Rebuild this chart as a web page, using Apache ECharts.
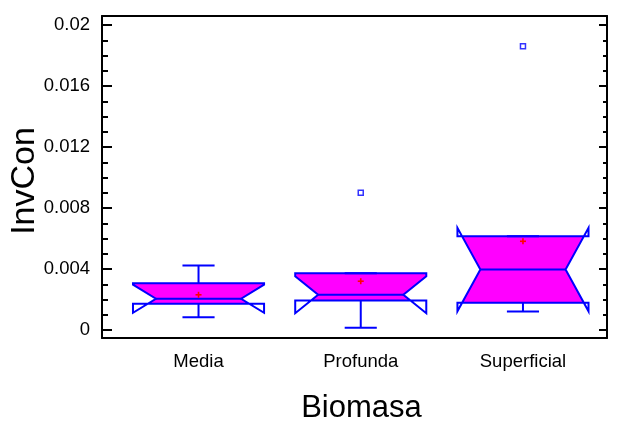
<!DOCTYPE html>
<html>
<head>
<meta charset="utf-8">
<script src="https://cdn.jsdelivr.net/npm/echarts@6/dist/echarts.min.js"></script>
<style>html,body{margin:0;padding:0;background:#fff}#c{width:618px;height:423px}</style>
</head>
<body>
<div id="c"></div>
<script>
// ---- data ----
const categories = ['Media', 'Profunda', 'Superficial'];
const whiskerLow  = [0.00084, 0.00014, 0.00121];
const q1          = [0.00172, 0.00193, 0.00178];
const notchLow    = [0.00113, 0.00110, 0.00123];
const median      = [0.00205, 0.00231, 0.00397];
const notchHigh   = [0.00297, 0.00352, 0.00670];
const q3          = [0.00307, 0.00372, 0.00615];
const whiskerHigh = [0.00423, 0.00372, 0.00615];
const means       = [0.00231, 0.00320, 0.00582];
const outlierCat  = [2, 3];
const outlierVal  = [0.0090, 0.01861];
const yTickValues = [0, 0.004, 0.008, 0.012, 0.016, 0.02];
const yTickLabels = ['0', '0.004', '0.008', '0.012', '0.016', '0.02'];
const yMinorValues = [0.001, 0.002, 0.003, 0.005, 0.006, 0.007, 0.009, 0.010, 0.011,
                      0.013, 0.014, 0.015, 0.017, 0.018, 0.019];

const BLUE = '#0000FF', MAG = '#FF00FF', RED = '#FF0000';
const boxHalf = 0.404, innerRatio = 0.65, capHalf = 0.099;

const boxData = categories.map((c, i) => [i + 1, whiskerLow[i], q1[i], notchLow[i], median[i], notchHigh[i], q3[i], whiskerHigh[i], means[i]]);
const outlierData = outlierCat.map((c, i) => [c, outlierVal[i]]);

function renderBox(params, api) {
  const x = api.value(0);
  const wl = api.value(1), b1 = api.value(2), nlo = api.value(3), med = api.value(4),
        nhi = api.value(5), b3 = api.value(6), wh = api.value(7), mn = api.value(8);
  const ih = boxHalf * innerRatio;
  const P = (dx, v) => api.coord([x + dx, v]);
  function half(v) {
    if (v >= nhi || v <= nlo) return boxHalf;
    if (v >= med) return ih + (boxHalf - ih) * (v - med) / (nhi - med);
    return ih + (boxHalf - ih) * (med - v) / (med - nlo);
  }
  const vals = [b1, b3, med, nlo, nhi].filter(v => v >= b1 && v <= b3).sort((a, b) => a - b);
  const uniq = vals.filter((v, k) => k === 0 || v !== vals[k - 1]);
  const fillPts = [];
  uniq.forEach(v => fillPts.push(P(half(v), v)));
  uniq.slice().reverse().forEach(v => fillPts.push(P(-half(v), v)));
  const outline = [P(-boxHalf, b3), P(boxHalf, b3), P(boxHalf, nhi), P(ih, med), P(boxHalf, nlo),
                   P(boxHalf, b1), P(-boxHalf, b1), P(-boxHalf, nlo), P(-ih, med), P(-boxHalf, nhi)];
  const ls = { stroke: BLUE, lineWidth: 2, fill: null };
  const seg = (a, b, style) => ({ type: 'line', shape: { x1: a[0], y1: a[1], x2: b[0], y2: b[1] }, style: style || ls });
  const m = P(0, mn);
  const redStyle = { stroke: RED, lineWidth: 1.6 };
  return {
    type: 'group',
    children: [
      { type: 'polygon', shape: { points: fillPts }, style: { fill: MAG, stroke: null } },
      { type: 'polygon', shape: { points: outline }, style: { fill: null, stroke: BLUE, lineWidth: 2, lineJoin: 'miter' } },
      seg(P(-ih, med), P(ih, med)),
      seg(P(0, b3), P(0, wh)),
      seg(P(0, b1), P(0, wl)),
      seg(P(-capHalf, wh), P(capHalf, wh)),
      seg(P(-capHalf, wl), P(capHalf, wl)),
      { type: 'line', shape: { x1: m[0] - 3, y1: m[1], x2: m[0] + 3, y2: m[1] }, style: redStyle },
      { type: 'line', shape: { x1: m[0], y1: m[1] - 3, x2: m[0], y2: m[1] + 3 }, style: redStyle }
    ]
  };
}

const FONT = '"Liberation Sans", Arial, sans-serif';
const lineStyle = { color: '#000', width: 2 };
const yBase = { type: 'value', min: -0.000525, max: 0.0206, splitLine: { show: false } };

const option = {
  animation: false,
  backgroundColor: '#fff',
  grid: { left: 102, right: 11, top: 16, bottom: 85, containLabel: false, outerBoundsMode: 'none' },
  xAxis: [
    {
      type: 'value', min: 0.405, max: 3.518, position: 'bottom',
      axisLine: { show: true, onZero: false, lineStyle: lineStyle },
      axisTick: { show: false },
      splitLine: { show: false },
      axisLabel: {
        customValues: [1, 2, 3],
        formatter: v => categories[Math.round(v) - 1] || '',
        fontFamily: FONT, fontSize: 18.5, color: '#000', margin: 14
      },
      name: 'Biomasa', nameLocation: 'middle', nameGap: 55, nameMoveOverlap: false,
      nameTextStyle: { fontFamily: FONT, fontSize: 31, color: '#000', padding: [0, 0, 0, 14] }
    },
    {
      type: 'value', min: 0.405, max: 3.518, position: 'top',
      axisLine: { show: true, onZero: false, lineStyle: lineStyle },
      axisTick: { show: false }, axisLabel: { show: false }, splitLine: { show: false }
    }
  ],
  yAxis: [
    Object.assign({}, yBase, {
      position: 'left',
      axisLine: { show: true, onZero: false, lineStyle: lineStyle },
      axisTick: { show: true, inside: true, length: 10, customValues: yTickValues, lineStyle: { color: '#000', width: 2 } },
      axisLabel: {
        customValues: yTickValues,
        formatter: v => { const k = yTickValues.findIndex(t => Math.abs(t - v) < 1e-9); return k >= 0 ? yTickLabels[k] : ''; },
        fontFamily: FONT, fontSize: 18.5, color: '#000', margin: 12
      },
      name: 'InvCon', nameLocation: 'middle', nameGap: 60, nameMoveOverlap: false,
      nameTextStyle: { fontFamily: FONT, fontSize: 34, color: '#000', padding: [0, 8, 0, 0] }
    }),
    Object.assign({}, yBase, {
      position: 'left', offset: 0,
      axisLine: { show: false, onZero: false },
      axisTick: { show: true, inside: true, length: 6, customValues: yMinorValues, lineStyle: { color: '#000', width: 2 } },
      axisLabel: { show: false }
    }),
    Object.assign({}, yBase, {
      position: 'right', offset: 0,
      axisLine: { show: true, onZero: false, lineStyle: lineStyle },
      axisTick: { show: true, inside: true, length: 8, customValues: yTickValues, lineStyle: { color: '#000', width: 2 } },
      axisLabel: { show: false }
    }),
    Object.assign({}, yBase, {
      position: 'right', offset: 0,
      axisLine: { show: false, onZero: false },
      axisTick: { show: true, inside: true, length: 4, customValues: yMinorValues, lineStyle: { color: '#000', width: 2 } },
      axisLabel: { show: false }
    })
  ],
  series: [
    {
      type: 'custom', xAxisIndex: 0, yAxisIndex: 0, clip: false,
      renderItem: renderBox,
      encode: { x: 0, y: [1, 2, 3, 4, 5, 6, 7, 8] },
      data: boxData, z: 3
    },
    {
      type: 'scatter', xAxisIndex: 0, yAxisIndex: 0,
      symbol: 'rect', symbolSize: 5,
      itemStyle: { color: '#fff', borderColor: BLUE, borderWidth: 1.5 },
      data: outlierData, z: 4
    }
  ]
};

const chart = echarts.init(document.getElementById('c'), null, { renderer: 'canvas' });
chart.setOption(option);
</script>
</body>
</html>
